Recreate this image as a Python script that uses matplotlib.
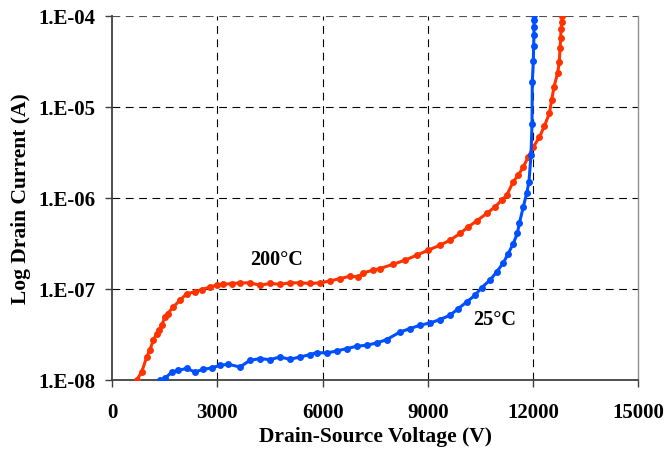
import matplotlib
matplotlib.use("Agg")
import matplotlib.pyplot as plt
import numpy as np

# ---- data (voltage in V, log10 of drain current in A) ----
v_200 = [700, 846, 989, 1083, 1177, 1273, 1348, 1416, 1510, 1587, 1746, 1937, 2128,
         2365, 2556, 2792, 2983, 3171, 3410, 3647, 3932, 4217, 4501, 4786, 5071, 5356,
         5641, 5926, 6211, 6496, 6781, 7018, 7160, 7445, 7635, 8014, 8348, 8681, 9012,
         9344, 9630, 9914, 10151, 10390, 10675, 10912, 11102, 11245, 11434, 11577,
         11719, 11862, 12004, 12175, 12318, 12460, 12527, 12593, 12698, 12744, 12764,
         12784, 12792, 12812, 12829]
logi_200 = [-8.0, -7.909, -7.744, -7.663, -7.56, -7.487, -7.443, -7.396, -7.304, -7.267,
            -7.194, -7.121, -7.048, -7.03, -7.004, -6.975, -6.956, -6.945, -6.938, -6.93,
            -6.93, -6.956, -6.937, -6.945, -6.93, -6.93, -6.937, -6.93, -6.909, -6.883,
            -6.857, -6.864, -6.82, -6.79, -6.773, -6.725, -6.681, -6.626, -6.571, -6.516,
            -6.462, -6.388, -6.315, -6.25, -6.168, -6.096, -6.022, -5.967, -5.82, -5.747,
            -5.656, -5.546, -5.436, -5.333, -5.209, -5.07, -4.923, -4.777, -4.623,
            -4.502, -4.355, -4.245, -4.146, -4.07, -4.0]

v_25 = [1368, 1510, 1700, 1890, 2128, 2365, 2601, 2840, 3077, 3313, 3647, 3932, 4217,
        4501, 4786, 5071, 5356, 5641, 5831, 6116, 6401, 6686, 6971, 7256, 7541, 7826,
        8205, 8490, 8775, 9060, 9344, 9630, 9866, 10106, 10342, 10532, 10769, 10960,
        11148, 11290, 11433, 11547, 11604, 11718, 11814, 11880, 11937, 11966, 11975,
        12004, 12013, 12023, 12023, 12023, 12032]
logi_25 = [-8.0, -7.98, -7.909, -7.89, -7.87, -7.909, -7.879, -7.865, -7.835, -7.824,
           -7.854, -7.78, -7.762, -7.773, -7.744, -7.769, -7.744, -7.718, -7.696, -7.70,
           -7.678, -7.652, -7.626, -7.615, -7.59, -7.553, -7.47, -7.432, -7.396, -7.37,
           -7.333, -7.286, -7.212, -7.14, -7.066, -6.982, -6.90, -6.81, -6.711, -6.608,
           -6.498, -6.388, -6.278, -6.096, -5.948, -5.82, -5.527, -5.187, -4.72, -4.49,
           -4.326, -4.21, -4.117, -4.044, -3.99]

x_ticks = [0, 3000, 6000, 9000, 12000, 15000]
y_ticks = [1e-8, 1e-7, 1e-6, 1e-5, 1e-4]
y_tick_labels = ["1.E-08", "1.E-07", "1.E-06", "1.E-05", "1.E-04"]

red = "#FF3300"
blue = "#0050FF"

plt.rcParams['font.family'] = ['Liberation Serif', 'DejaVu Serif']
plt.rcParams['font.weight'] = 'bold'

fig = plt.figure(figsize=(6.67, 4.51), dpi=100)
ax = fig.add_axes([112/667, 1-380.3/451, (638.5-112)/667, (380.3-16)/451])

ax.set_yscale('log')
ax.set_xlim(0, 15000)
ax.set_ylim(1e-8, 1e-4)

# grid
for xv in x_ticks[1:-1]:
    ax.axvline(xv, color='black', lw=0.8, ls=(0, (7, 5)), zorder=1)
for yv in y_ticks[1:]:
    ax.axhline(yv, color='#505050' if yv == 1e-4 else 'black', lw=0.8,
               ls=(0, (7, 5)), zorder=1)

ax.plot(v_200, 10**np.array(logi_200), color=red, lw=2.2, marker='o', ms=5,
        markeredgewidth=0, zorder=3)
ax.plot(v_25, 10**np.array(logi_25), color=blue, lw=2.2, marker='o', ms=5,
        markeredgewidth=0, zorder=3)

ax.text(4700, 10**-6.68, "200°C", fontsize=14.5, fontweight='bold', ha='center', va='center')
ax.text(10900, 10**-7.34, "25°C", fontsize=14.5, fontweight='bold', ha='center', va='center')

ax.set_xticks(x_ticks)
ax.set_xticklabels([str(t) for t in x_ticks])
ax.set_yticks(y_ticks)
ax.set_yticklabels(y_tick_labels)
ax.minorticks_off()
ax.tick_params(axis='both', direction='out', length=5, width=1, color='#404040',
               labelsize=15)
ax.tick_params(axis='x', pad=11)
ax.tick_params(axis='y', pad=7)
for lab in ax.get_xticklabels() + ax.get_yticklabels():
    lab.set_fontweight('bold')

for s in ['left', 'bottom']:
    ax.spines[s].set_color('#404040')
    ax.spines[s].set_linewidth(1.3)
ax.spines['top'].set_visible(False)
ax.spines['right'].set_color('#909090')
ax.spines['right'].set_linewidth(1.0)

ax.set_xlabel("Drain-Source Voltage (V)", fontsize=15.5, fontweight='bold', labelpad=3)
ax.set_ylabel("Log Drain Current (A)", fontsize=15.5, fontweight='bold', labelpad=5)

fig.savefig("out.png", dpi=100)
